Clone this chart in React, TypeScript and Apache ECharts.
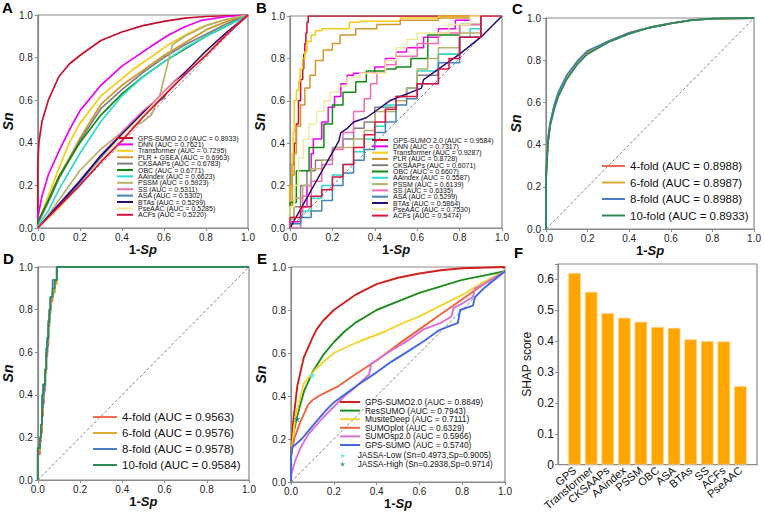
import React, { useEffect, useRef } from "react";
import * as echarts from "echarts";

type P = [number, number][];

// ---------- Panel A (ROC, 13 methods) ----------
const A_NAMES = [
  "GPS-SUMO 2.0 (AUC = 0.8933)", "DNN (AUC = 0.7621)", "Transformer (AUC = 0.7295)",
  "PLR + GSEA (AUC = 0.6963)", "CKSAAPs (AUC = 0.6783)", "OBC (AUC = 0.6771)",
  "AAindex (AUC = 0.6623)", "PSSM (AUC = 0.5923)", "SS (AUC = 0.5311)",
  "ASA (AUC = 0.5302)", "BTAs (AUC = 0.5299)", "PseAAC (AUC = 0.5285)", "ACFs (AUC = 0.5220)",
];
const A_GPS: P = [[0,0],[0,0.3],[0.005,0.4],[0.02,0.5],[0.05,0.6],[0.1,0.71],[0.15,0.77],[0.2,0.81],[0.3,0.88],[0.4,0.92],[0.5,0.95],[0.6,0.97],[0.7,0.985],[0.8,0.993],[1,1]];
const A_DNN: P = [[0,0],[0,0.05],[0.02,0.15],[0.05,0.25],[0.1,0.36],[0.15,0.46],[0.2,0.55],[0.3,0.67],[0.4,0.76],[0.46,0.8],[0.55,0.86],[0.62,0.905],[0.7,0.945],[0.78,0.975],[0.9,0.993],[1,1]];
const A_TRANS: P = [[0,0],[0,0.02],[0.05,0.15],[0.1,0.28],[0.15,0.4],[0.2,0.49],[0.3,0.62],[0.4,0.7],[0.46,0.75],[0.55,0.81],[0.62,0.86],[0.7,0.905],[0.78,0.945],[0.9,0.98],[1,1]];
const A_PLR: P = [[0,0],[0,0.02],[0.05,0.13],[0.1,0.24],[0.2,0.42],[0.3,0.58],[0.4,0.67],[0.5,0.74],[0.6,0.81],[0.7,0.87],[0.8,0.93],[0.9,0.97],[1,1]];
const A_CKS: P = [[0,0],[0,0.02],[0.05,0.12],[0.1,0.23],[0.2,0.41],[0.3,0.56],[0.4,0.65],[0.5,0.73],[0.6,0.8],[0.7,0.86],[0.8,0.91],[0.9,0.96],[1,1]];
const A_OBC: P = [[0,0],[0,0.03],[0.05,0.13],[0.1,0.24],[0.2,0.4],[0.3,0.53],[0.4,0.63],[0.5,0.71],[0.6,0.78],[0.7,0.84],[0.8,0.9],[0.9,0.95],[1,1]];
const A_AAI: P = [[0,0],[0,0.01],[0.05,0.08],[0.1,0.18],[0.2,0.35],[0.3,0.5],[0.4,0.62],[0.5,0.71],[0.6,0.78],[0.7,0.845],[0.8,0.9],[0.9,0.95],[1,1]];
const A_PSSM: P = [[0,0],[0.05,0.06],[0.1,0.13],[0.2,0.27],[0.3,0.37],[0.4,0.45],[0.5,0.5],[0.54,0.53],[0.58,0.62],[0.62,0.78],[0.64,0.86],[0.7,0.9],[0.8,0.95],[0.9,0.98],[1,1]];
const A_SS: P = [[0,0],[0.1,0.11],[0.2,0.22],[0.3,0.34],[0.4,0.45],[0.5,0.55],[0.55,0.59],[0.6,0.64],[0.65,0.69],[0.7,0.73],[0.8,0.82],[0.9,0.91],[1,1]];
const A_ASA: P = [[0,0],[0.1,0.1],[0.2,0.21],[0.3,0.33],[0.4,0.44],[0.5,0.54],[0.55,0.58],[0.6,0.61],[0.62,0.65],[0.7,0.72],[0.8,0.82],[0.9,0.91],[1,1]];
const A_BTA: P = [[0,0],[0.1,0.11],[0.2,0.22],[0.3,0.34],[0.4,0.44],[0.5,0.54],[0.56,0.59],[0.6,0.62],[0.63,0.66],[0.7,0.73],[0.8,0.83],[0.9,0.92],[1,1]];
const A_PSE: P = [[0,0],[0.1,0.09],[0.2,0.2],[0.3,0.32],[0.4,0.43],[0.5,0.53],[0.6,0.63],[0.65,0.68],[0.7,0.72],[0.8,0.82],[0.9,0.91],[1,1]];
const A_ACF: P = [[0,0],[0.1,0.1],[0.2,0.2],[0.3,0.31],[0.4,0.41],[0.5,0.52],[0.6,0.62],[0.7,0.72],[0.8,0.81],[0.9,0.91],[1,1]];
const A_DATA = [A_GPS, A_DNN, A_TRANS, A_PLR, A_CKS, A_OBC, A_AAI, A_PSSM, A_SS, A_ASA, A_BTA, A_PSE, A_ACF];

// ---------- Panel B (ROC, 13 methods, independent test) ----------
const B_NAMES = [
  "GPS-SUMO 2.0 (AUC = 0.9584)", "DNN (AUC = 0.7317)", "Transformer (AUC = 0.9287)",
  "PLR (AUC = 0.8728)", "CKSAAPs (AUC = 0.6071)", "OBC (AUC = 0.6607)",
  "AAindex (AUC = 0.5587)", "PSSM (AUC = 0.6139)", "SS (AUC = 0.6335)",
  "ASA (AUC = 0.5299)", "BTAs (AUC = 0.5864)", "PseAAC (AUC = 0.7530)", "ACFs (AUC = 0.5474)",
];
const B_GPS: P = [[0,0],[0,0.12],[0.01,0.2],[0.02,0.3],[0.03,0.4],[0.04,0.49],[0.05,0.6],[0.06,0.7],[0.065,0.75],[0.07,0.82],[0.075,0.87],[0.08,0.92],[0.086,0.97],[0.09,1],[1,1]];
const B_DNN: P = [[0,0],[0.05,0.03],[0.08,0.1],[0.1,0.2],[0.11,0.35],[0.15,0.42],[0.18,0.5],[0.21,0.57],[0.24,0.62],[0.27,0.68],[0.3,0.72],[0.4,0.73],[0.45,0.76],[0.5,0.8],[0.55,0.83],[0.63,0.85],[0.7,0.9],[0.78,0.94],[0.85,0.98],[1,1]];
const B_TRANS: P = [[0,0],[0,0.1],[0.01,0.2],[0.015,0.35],[0.02,0.45],[0.03,0.6],[0.04,0.65],[0.047,0.69],[0.06,0.75],[0.07,0.8],[0.08,0.83],[0.1,0.88],[0.12,0.91],[0.15,0.93],[0.28,0.94],[0.33,0.97],[0.52,0.975],[0.7,0.99],[0.85,1],[1,1]];
const B_PLR: P = [[0,0],[0.01,0.1],[0.02,0.25],[0.03,0.35],[0.05,0.48],[0.07,0.58],[0.094,0.66],[0.12,0.72],[0.157,0.79],[0.2,0.84],[0.236,0.87],[0.31,0.91],[0.41,0.94],[0.52,0.96],[0.7,0.98],[0.85,0.99],[1,1]];
const B_CKS: P = [[0,0],[0.02,0.05],[0.05,0.1],[0.08,0.2],[0.12,0.27],[0.2,0.32],[0.25,0.38],[0.3,0.42],[0.35,0.47],[0.4,0.5],[0.5,0.57],[0.55,0.62],[0.6,0.66],[0.7,0.72],[0.8,0.82],[0.9,0.9],[1,1]];
const B_OBC: P = [[0,0],[0.03,0.12],[0.09,0.27],[0.16,0.38],[0.2,0.49],[0.25,0.58],[0.31,0.64],[0.36,0.69],[0.41,0.74],[0.45,0.74],[0.5,0.75],[0.57,0.76],[0.65,0.8],[0.8,0.91],[0.9,0.96],[1,1]];
const B_AAI: P = [[0,0],[0.05,0],[0.06,0.05],[0.1,0.08],[0.15,0.14],[0.2,0.2],[0.25,0.25],[0.3,0.3],[0.35,0.36],[0.4,0.42],[0.45,0.48],[0.5,0.58],[0.55,0.62],[0.6,0.66],[0.7,0.74],[0.8,0.82],[0.85,0.9],[0.9,0.94],[1,1]];
const B_PSSM: P = [[0,0],[0.02,0.04],[0.06,0.14],[0.1,0.2],[0.15,0.28],[0.2,0.32],[0.3,0.38],[0.35,0.42],[0.4,0.46],[0.5,0.55],[0.55,0.6],[0.6,0.66],[0.65,0.75],[0.7,0.8],[0.8,0.85],[0.9,0.92],[1,1]];
const B_SS: P = [[0,0],[0.05,0],[0.06,0.08],[0.1,0.15],[0.15,0.22],[0.2,0.3],[0.25,0.37],[0.3,0.45],[0.35,0.55],[0.38,0.61],[0.41,0.68],[0.45,0.73],[0.5,0.77],[0.6,0.81],[0.7,0.87],[0.8,0.92],[0.9,0.96],[1,1]];
const B_ASA: P = [[0,0],[0.05,0.02],[0.1,0.05],[0.15,0.08],[0.2,0.13],[0.25,0.2],[0.3,0.26],[0.35,0.32],[0.4,0.37],[0.45,0.45],[0.5,0.5],[0.55,0.58],[0.6,0.61],[0.7,0.68],[0.8,0.78],[0.9,0.9],[1,1]];
const B_BTA: P = [[0,0],[0.23,0.41],[0.24,0.45],[0.27,0.47],[0.3,0.5],[0.36,0.52],[0.47,0.6],[0.62,0.66],[0.63,0.7],[0.8,0.82],[0.9,0.9],[1,1]];
const B_PSE: P = [[0,0],[0.02,0.1],[0.04,0.2],[0.063,0.33],[0.09,0.42],[0.126,0.49],[0.16,0.55],[0.19,0.6],[0.23,0.64],[0.27,0.67],[0.33,0.71],[0.45,0.73],[0.5,0.79],[0.55,0.85],[0.6,0.89],[0.75,0.92],[0.85,0.96],[1,1]];
const B_ACF: P = [[0,0],[0.05,0.05],[0.1,0.1],[0.15,0.15],[0.2,0.18],[0.25,0.24],[0.3,0.3],[0.35,0.38],[0.4,0.44],[0.45,0.5],[0.5,0.56],[0.6,0.62],[0.7,0.68],[0.75,0.75],[0.8,0.8],[0.9,0.9],[1,1]];
const B_DATA = [B_GPS, B_DNN, B_TRANS, B_PLR, B_CKS, B_OBC, B_AAI, B_PSSM, B_SS, B_ASA, B_BTA, B_PSE, B_ACF];

// ---------- Panel C (k-fold, training) ----------
const C_NAMES = ["4-fold (AUC = 0.8988)", "6-fold (AUC = 0.8987)", "8-fold (AUC = 0.8988)", "10-fold (AUC = 0.8933)"];
const C_4: P = [[0,0],[0,0.25],[0.005,0.35],[0.01,0.42],[0.02,0.5],[0.04,0.58],[0.06,0.64],[0.1,0.72],[0.15,0.79],[0.2,0.84],[0.3,0.89],[0.4,0.93],[0.5,0.955],[0.6,0.975],[0.7,0.99],[0.8,0.997],[1,1]];
const C_6: P = [[0,0],[0,0.24],[0.005,0.34],[0.01,0.42],[0.02,0.5],[0.04,0.58],[0.06,0.64],[0.1,0.72],[0.15,0.785],[0.2,0.835],[0.3,0.89],[0.4,0.93],[0.5,0.955],[0.6,0.975],[0.7,0.99],[0.8,0.997],[1,1]];
const C_8: P = [[0,0],[0,0.25],[0.005,0.35],[0.01,0.43],[0.02,0.5],[0.04,0.59],[0.06,0.65],[0.1,0.73],[0.15,0.795],[0.2,0.845],[0.3,0.89],[0.4,0.93],[0.5,0.955],[0.6,0.975],[0.7,0.99],[0.8,0.997],[1,1]];
const C_10: P = [[0,0],[0,0.23],[0.005,0.33],[0.01,0.41],[0.02,0.49],[0.04,0.57],[0.06,0.63],[0.1,0.71],[0.15,0.78],[0.2,0.83],[0.3,0.885],[0.4,0.925],[0.5,0.955],[0.6,0.975],[0.7,0.99],[0.8,0.997],[1,1]];
const C_DATA = [C_4, C_6, C_8, C_10];

// ---------- Panel D (k-fold, independent) ----------
const D_NAMES = ["4-fold (AUC = 0.9563)", "6-fold (AUC = 0.9576)", "8-fold (AUC = 0.9578)", "10-fold (AUC = 0.9584)"];
const D_4: P = [[0,0],[0,0.09],[0.01,0.12],[0.015,0.18],[0.02,0.22],[0.025,0.3],[0.03,0.36],[0.035,0.42],[0.04,0.5],[0.045,0.58],[0.05,0.63],[0.055,0.72],[0.06,0.78],[0.07,0.84],[0.08,0.88],[0.09,0.93],[0.095,1],[1,1]];
const D_6: P = [[0,0],[0,0.1],[0.01,0.14],[0.015,0.2],[0.02,0.25],[0.025,0.32],[0.03,0.38],[0.035,0.44],[0.04,0.5],[0.045,0.6],[0.05,0.65],[0.055,0.73],[0.06,0.79],[0.07,0.85],[0.08,0.88],[0.09,0.92],[0.095,1],[1,1]];
const D_8: P = [[0,0],[0,0.11],[0.01,0.15],[0.015,0.2],[0.02,0.26],[0.025,0.34],[0.03,0.4],[0.035,0.44],[0.04,0.52],[0.045,0.6],[0.05,0.66],[0.055,0.74],[0.06,0.8],[0.07,0.86],[0.08,0.94],[0.09,0.94],[0.095,1],[1,1]];
const D_10: P = [[0,0],[0,0.12],[0.01,0.15],[0.015,0.2],[0.02,0.26],[0.025,0.4],[0.03,0.45],[0.035,0.45],[0.04,0.52],[0.045,0.62],[0.05,0.67],[0.055,0.75],[0.06,0.8],[0.07,0.86],[0.08,0.9],[0.09,0.94],[0.096,1],[1,1]];
const D_DATA = [D_4, D_6, D_8, D_10];

// ---------- Panel E (comparison with other tools) ----------
const E_NAMES = [
  "GPS-SUMO2.0 (AUC = 0.8849)", "ResSUMO (AUC = 0.7943)", "MusiteDeep (AUC = 0.7111)",
  "SUMOplot (AUC = 0.6329)", "SUMOsp2.0 (AUC = 0.5966)", "GPS-SUMO (AUC = 0.5740)",
];
const E_GPS2: P = [[0,0],[0,0.12],[0.01,0.28],[0.03,0.45],[0.06,0.58],[0.1,0.67],[0.12,0.71],[0.15,0.75],[0.2,0.8],[0.3,0.87],[0.4,0.92],[0.5,0.95],[0.6,0.97],[0.7,0.985],[0.8,0.994],[1,1]];
const E_RES: P = [[0,0],[0,0.12],[0.01,0.22],[0.03,0.31],[0.06,0.42],[0.1,0.51],[0.15,0.59],[0.2,0.65],[0.25,0.7],[0.3,0.74],[0.4,0.8],[0.5,0.84],[0.6,0.88],[0.7,0.91],[0.8,0.94],[0.9,0.96],[1,0.98]];
const E_MUS: P = [[0,0],[0,0.12],[0.02,0.3],[0.06,0.46],[0.12,0.53],[0.2,0.6],[0.31,0.65],[0.44,0.7],[0.5,0.73],[0.6,0.77],[0.7,0.82],[0.8,0.87],[0.9,0.93],[1,0.98]];
const E_PLOT: P = [[0,0],[0,0.12],[0.015,0.2],[0.04,0.27],[0.08,0.36],[0.1,0.38],[0.13,0.4],[0.17,0.42],[0.22,0.445],[0.3,0.5],[0.4,0.565],[0.5,0.64],[0.6,0.71],[0.7,0.78],[0.8,0.85],[0.9,0.92],[1,0.98]];
const E_SP2: P = [[0,0],[0,0.03],[0.02,0.1],[0.05,0.17],[0.08,0.22],[0.15,0.3],[0.25,0.4],[0.3,0.44],[0.365,0.5],[0.375,0.55],[0.45,0.6],[0.55,0.66],[0.62,0.71],[0.7,0.74],[0.75,0.77],[0.76,0.81],[0.8,0.83],[0.85,0.86],[0.86,0.9],[0.9,0.92],[1,0.98]];
const E_GPS: P = [[0,0],[0,0.12],[0.005,0.16],[0.05,0.2],[0.1,0.26],[0.16,0.33],[0.2,0.37],[0.31,0.45],[0.4,0.51],[0.47,0.56],[0.55,0.61],[0.62,0.655],[0.69,0.705],[0.78,0.74],[0.79,0.8],[0.85,0.82],[0.86,0.86],[0.9,0.9],[1,0.98]];
const E_DATA = [E_GPS2, E_RES, E_MUS, E_PLOT, E_SP2, E_GPS];
const E_POINT_NAMES = ["JASSA-Low (Sn=0.4973,Sp=0.9005)", "JASSA-High (Sn=0.2938,Sp=0.9714)"];
const E_POINTS: P = [[0.0995, 0.4973], [0.0286, 0.2938]];

// ---------- Panel F (SHAP) ----------
const F_CATS = ["GPS", "Transformer", "CKSAAPs", "AAindex", "PSSM", "OBC", "ASA", "BTAs", "SS", "ACFs", "PseAAC"];
const F_VALUES = [0.621, 0.56, 0.491, 0.476, 0.463, 0.446, 0.443, 0.406, 0.4, 0.399, 0.254];

// ---------- styles ----------
const A_COLORS = ["#C8102E", "#F000F0", "#F7CC12", "#D1962A", "#808080", "#118A11", "#2FD8D0", "#B7B06A", "#F26BB5", "#4682B4", "#2A0A78", "#F3EAA0", "#DC143C"];
const K_COLORS = ["#EE6A50", "#E0A82E", "#4A7FC1", "#2E8B57"];
const E_COLORS = ["#D0201C", "#1E8C1E", "#F2D52E", "#F0643C", "#DA70D6", "#4169E1"];
const E_PT_COLORS = ["#3EE8E8", "#1F7F7F"];
const BAR_COLOR = "#FFA500";

const FONT = "Arial, 'Liberation Sans', Helvetica, sans-serif";
const FRAME = "#8a8a8a";
const STAR = "path://M50,0 L61,35 L98,35 L68,57 L79,91 L50,70 L21,91 L32,57 L2,35 L39,35 Z";

const GRIDS = [
  { left: 35, top: 15, width: 213, height: 213 },
  { left: 290, top: 16, width: 212, height: 212 },
  { left: 546, top: 18, width: 211, height: 211 },
  { left: 36, top: 267, width: 213, height: 213 },
  { left: 291, top: 267, width: 214, height: 215 },
  { left: 558, top: 264, width: 199, height: 203 },
];

function rocX(i: number) {
  return {
    type: "value", gridIndex: i, min: 0, max: 1, interval: 0.2,
    name: "{n|1-}{i|Sp}", nameLocation: "middle", nameGap: 11,
    nameTextStyle: {
      rich: {
        n: { fontFamily: FONT, fontWeight: "bold", fontSize: 13, color: "#111" },
        i: { fontFamily: FONT, fontWeight: "bold", fontStyle: "italic", fontSize: 13, color: "#111" },
      },
    },
    axisLine: { show: true, onZero: false, lineStyle: { color: FRAME, width: 1.2 } },
    axisTick: { show: true, length: 3, lineStyle: { color: FRAME } },
    axisLabel: { fontSize: 10, color: "#222", fontFamily: FONT, margin: 4, formatter: (v: number) => v.toFixed(1) },
    splitLine: { show: false },
  };
}
function rocY(i: number) {
  return {
    type: "value", gridIndex: i, min: 0, max: 1, interval: 0.2,
    name: "Sn", nameLocation: "middle", nameGap: 16,
    nameTextStyle: { fontFamily: FONT, fontWeight: "bold", fontStyle: "italic", fontSize: 14, color: "#111" },
    axisLine: { show: true, onZero: false, lineStyle: { color: FRAME, width: 1.2 } },
    axisTick: { show: true, length: 3, lineStyle: { color: FRAME } },
    axisLabel: { fontSize: 10, color: "#222", fontFamily: FONT, margin: 5, formatter: (v: number) => v.toFixed(1) },
    splitLine: { show: false },
  };
}

function line(name: string, data: P, color: string, g: number, width: number, step?: string | false) {
  return {
    type: "line", name, data, xAxisIndex: g, yAxisIndex: g, symbol: "none",
    color, itemStyle: { color }, lineStyle: { color, width },
    step: step || false, silent: true,
  };
}
function diag(g: number) {
  return {
    type: "line", name: "diag" + g, data: [[0, 0], [1, 1]] as P, xAxisIndex: g, yAxisIndex: g,
    symbol: "none", silent: true, lineStyle: { color: "#666", width: 0.8, type: [3, 2] }, z: 1,
  };
}
function legend(names: string[], left: number, top: number, fontSize: number, gap: number, iw: number, icon = "rect", ih = 2) {
  return {
    data: names, orient: "vertical", left, top, padding: 0, itemGap: gap,
    itemWidth: iw, itemHeight: ih, icon, selectedMode: false,
    textStyle: { fontSize, color: "#111", fontFamily: FONT },
  };
}

export default function App() {
  const ref = useRef<HTMLDivElement>(null);
  useEffect(() => {
    if (!ref.current) return;
    const chart = echarts.init(ref.current, null, { renderer: "svg" });
    const series: any[] = [];
    [0, 1, 2, 3, 4].forEach((g) => series.push(diag(g)));
    A_DATA.forEach((d, k) => series.push(line(A_NAMES[k], d, A_COLORS[k], 0, 1.7)));
    B_DATA.forEach((d, k) => series.push(line(B_NAMES[k], d, A_COLORS[k], 1, 1.5, k === 10 ? false : "start")));
    C_DATA.forEach((d, k) => series.push(line(C_NAMES[k], d, K_COLORS[k], 2, 1.8)));
    D_DATA.forEach((d, k) => series.push(line(D_NAMES[k], d, K_COLORS[k], 3, 1.8, "start")));
    E_DATA.forEach((d, k) => series.push(line(E_NAMES[k], d, E_COLORS[k], 4, 1.9)));
    E_POINTS.forEach((p, k) =>
      series.push({
        type: "scatter", name: E_POINT_NAMES[k], data: [p], xAxisIndex: 4, yAxisIndex: 4,
        symbol: STAR, symbolSize: 7, color: E_PT_COLORS[k], itemStyle: { color: E_PT_COLORS[k] }, z: 5,
      })
    );
    series.push({
      type: "bar", name: "SHAP", xAxisIndex: 5, yAxisIndex: 5, barWidth: 12.7,
      data: F_VALUES.map((v, k) => [k, v]),
      itemStyle: { color: BAR_COLOR, borderColor: "#FFD58A", borderWidth: 0.8 },
    });

    const xAxis: any[] = [0, 1, 2, 3, 4].map(rocX);
    const yAxis: any[] = [0, 1, 2, 3, 4].map(rocY);
    xAxis.push({
      type: "value", gridIndex: 5, min: -1, max: 11, interval: 1,
      axisLine: { show: true, onZero: false, lineStyle: { color: FRAME, width: 1.2 } },
      axisTick: { show: false },
      axisLabel: {
        fontSize: 11, color: "#111", fontFamily: FONT, rotate: 40, margin: 4,
        formatter: (v: number) => (v >= 0 && v < F_CATS.length ? F_CATS[v] : ""),
      },
      splitLine: { show: false },
    });
    yAxis.push({
      type: "value", gridIndex: 5, min: 0, max: 0.65, interval: 0.1,
      name: "SHAP score", nameLocation: "middle", nameGap: 22,
      nameTextStyle: { fontFamily: FONT, fontSize: 12, color: "#111" },
      axisLine: { show: true, onZero: false, lineStyle: { color: FRAME, width: 1.2 } },
      axisTick: { show: true, length: 3, lineStyle: { color: FRAME } },
      axisLabel: {
        fontSize: 12, color: "#111", fontFamily: FONT, margin: 4,
        formatter: (v: number) => {
          if (Math.abs(v * 10 - Math.round(v * 10)) > 1e-6) return "";
          return v === 0 ? "0" : v.toFixed(1);
        },
      },
      splitLine: { show: false },
    });

    const letters = [["A", 2, 0], ["B", 256, 0], ["C", 512, 1], ["D", 3, 251], ["E", 257, 251], ["F", 514, 245]];

    chart.setOption({
      animation: false,
      textStyle: { fontFamily: FONT },
      grid: GRIDS.map((g) => ({ ...g, show: true, borderColor: FRAME, borderWidth: 1.2, backgroundColor: "transparent" })),
      xAxis, yAxis,
      legend: [
        legend(A_NAMES, 117, 134.5, 7, -0.6, 16),
        legend(B_NAMES, 372, 136.5, 7, -0.7, 16),
        legend(C_NAMES, 602, 160, 11.5, 4.5, 23),
        legend(D_NAMES, 93, 411, 11.5, 4, 24),
        legend(E_NAMES, 340, 398, 8.4, 0.6, 20),
        legend(E_POINT_NAMES, 340, 451.5, 8.2, 0.6, 20, STAR, 5),
      ],
      series,
      graphic: letters.map(([t, x, y]) => ({
        type: "text", left: x, top: y,
        style: { text: t, fontSize: 15, fontWeight: "bold", fill: "#000", fontFamily: FONT },
      })),
    });
    return () => chart.dispose();
  }, []);
  return <div ref={ref} style={{ position: "absolute", left: 0, top: 0, width: 764, height: 513, background: "#fff" }} />;
}
